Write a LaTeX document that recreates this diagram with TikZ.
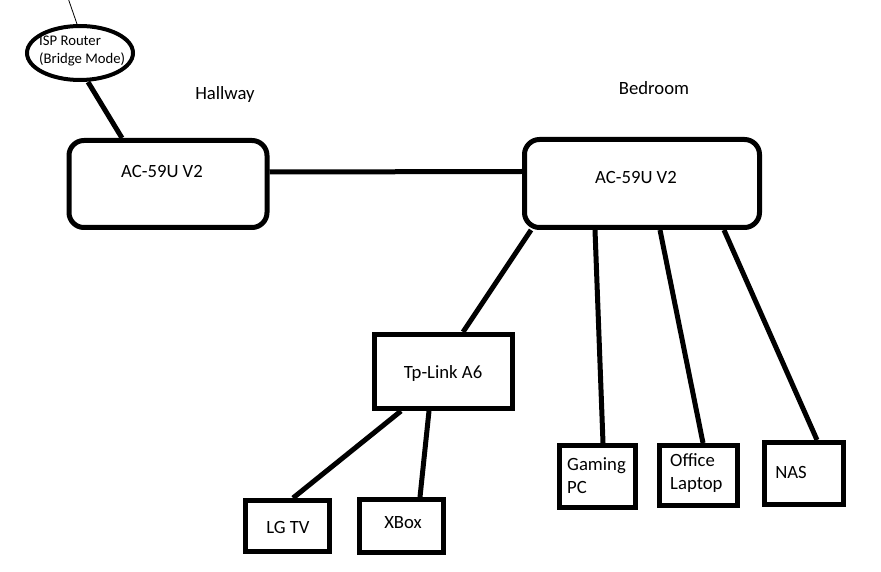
\documentclass[tikz,border=0pt]{standalone}
\usepackage{fontspec}
\setmainfont{Carlito}
\usetikzlibrary{shapes.geometric,calc}
\tikzset{
  dev/.style={draw, line width=5pt, minimum width=#1, inner sep=0pt},
  wire/.style={line width=5pt},
  lbl/.style={inner sep=0pt, font=\fontsize{18.7}{23}\selectfont},
  small/.style={inner sep=0pt, font=\fontsize{14.7}{18}\selectfont, align=left},
}
\begin{document}
\begin{tikzpicture}[x=1pt,y=-1pt]
\useasboundingbox (0,0) rectangle (881,572);
% ISP router
\node[draw, ellipse, line width=4pt, minimum width=106pt, minimum height=54pt, inner sep=0pt] (isp) at (80,53) {};
\node[small, anchor=west] (ispt) at (39,51) {ISP Router\\(Bridge Mode)};
\coordinate (top) at (68,-2);
\draw[line width=0.8pt] (top) -- ([xshift=-3pt]isp.north);
% room labels
\node[lbl] (hallway) at (225,95) {Hallway};
\node[lbl] (bedroom) at (654,88) {Bedroom};
% main routers
\node[dev=198pt, minimum height=87pt, rounded corners=15pt] (hall) at (168,184) {};
\node[lbl] (hallt) at (162,172) {AC-59U V2};
\node[dev=235pt, minimum height=88pt, rounded corners=15pt] (bed) at (642,183.5) {};
\node[lbl] (bedt) at (636,178) {AC-59U V2};
% Tp-Link
\node[dev=138pt, minimum height=74pt] (tp) at (443.5,371.5) {};
\node[lbl] (tpt) at (443,374) {Tp-Link A6};
% leaves
\node[dev=84pt, minimum height=51pt] (lg) at (287.5,526) {};
\node[lbl] (lgt) at (288,527) {LG TV};
\node[dev=84pt, minimum height=53pt] (xbox) at (401.5,526) {};
\node[lbl] (xboxt) at (403,523) {XBox};
\node[dev=76pt, minimum height=62pt] (pc) at (597.5,476.5) {};
\node[lbl, align=left, anchor=west] (pct) at (567,476) {Gaming\\PC};
\node[dev=78pt, minimum height=60pt] (lap) at (698.5,475.5) {};
\node[lbl, align=left, anchor=west] (lapt) at (670,473.5) {Office\\Laptop};
\node[dev=79pt, minimum height=62pt] (nas) at (804,473.5) {};
\node[lbl] (nast) at (791,472) {NAS};
% connectors
\draw[wire] ([xshift=8pt]isp.south) -- ([xshift=-46pt]hall.north);
\draw[wire] ([yshift=12pt]hall.east) -- ([yshift=12pt]bed.west);
\draw[wire] ([xshift=-111pt]bed.south) -- ([xshift=19.5pt]tp.north);
\draw[wire] ([xshift=-47pt]bed.south) -- ([xshift=5.5pt]pc.north);
\draw[wire] ([xshift=18pt]bed.south) -- ([xshift=4.5pt]lap.north);
\draw[wire] ([xshift=82pt]bed.south) -- ([xshift=13pt]nas.north);
\draw[wire] ([xshift=-42.5pt]tp.south) -- ([xshift=5.5pt]lg.north);
\draw[wire] ([xshift=-14.5pt]tp.south) -- ([xshift=18.5pt]xbox.north);
\end{tikzpicture}
\end{document}
